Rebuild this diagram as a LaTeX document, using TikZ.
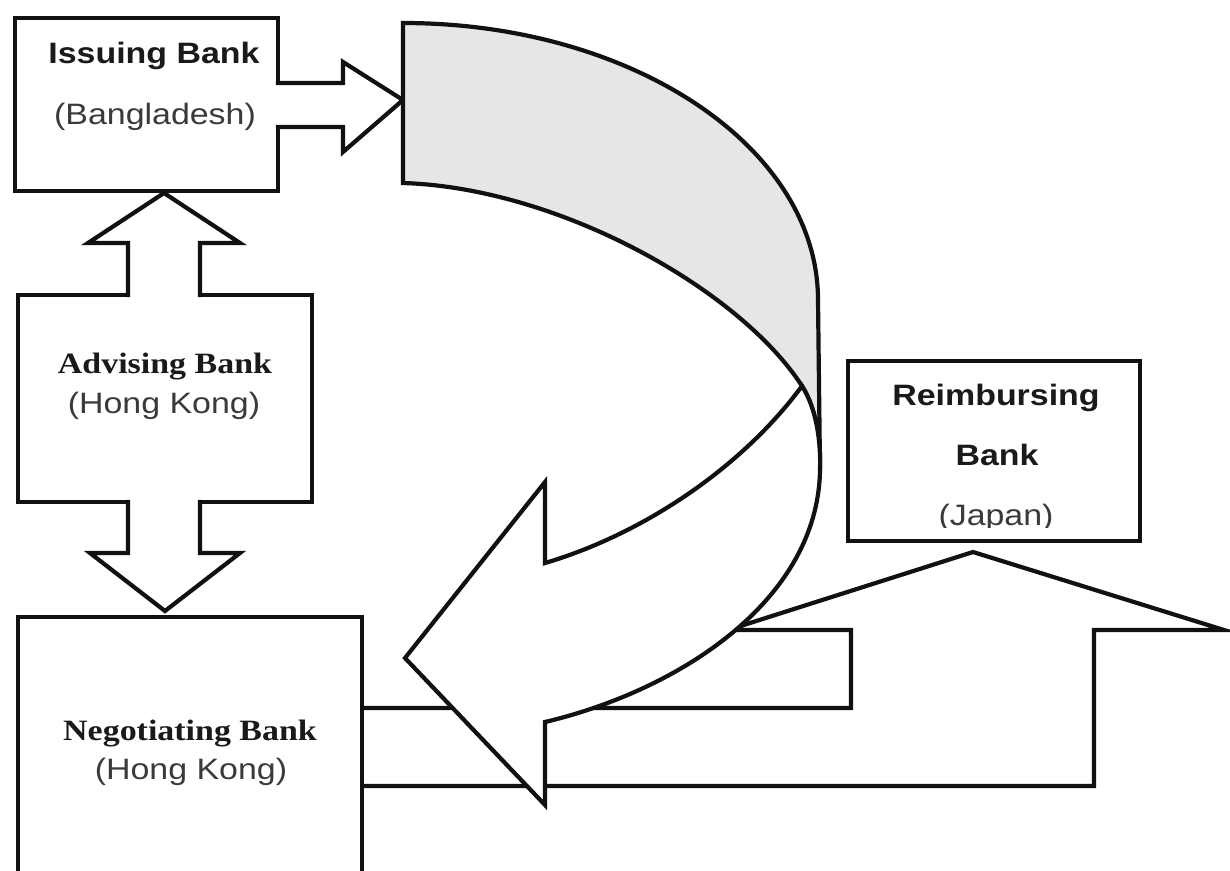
\documentclass[tikz,border=0pt]{standalone}
\usepackage{fontspec}
\usepackage{graphicx}
\setmainfont{Liberation Serif}
\newfontfamily\sansf{Liberation Sans}
\newfontfamily\seriff{Liberation Serif}
\newcommand{\hstr}[1]{\scalebox{1.15}[1]{#1}}
\definecolor{linec}{HTML}{111111}
\definecolor{grayf}{HTML}{E6E6E6}
\definecolor{txtb}{HTML}{1A1A1A}
\definecolor{txtr}{HTML}{3A3A3A}
\begin{document}
\begin{tikzpicture}[x=1pt,y=-1pt,
  outline/.style={draw=linec,line width=4.2pt,line join=miter,miter limit=12},
  box/.style={outline,fill=white,inner sep=0pt,outer sep=0pt},
  blk/.style={outline,fill=white,line cap=rect},
  bsans/.style={font={\sansf\bfseries\fontsize{29.5}{33}\selectfont},text=txtb,anchor=base,inner sep=0pt},
  bserif/.style={font={\seriff\bfseries\fontsize{29.5}{33}\selectfont},text=txtb,anchor=base,inner sep=0pt},
  rsans/.style={font={\sansf\fontsize{29.5}{33}\selectfont},text=txtr,anchor=base,inner sep=0pt}]
\useasboundingbox (0,0) rectangle (1230,870);
\clip (0,0) rectangle (1230,870);

% L-shaped block arrow: Negotiating -> Reimbursing
\draw[blk] (362,708) -- (851,708) -- (851,630) -- (728,630) -- (973,552) -- (1224,630) -- (1094,630) -- (1094,786) -- (362,786);

% boxes
\node[box,minimum width=292,minimum height=180] (reim) at (994,451) {};
\node[box,minimum width=263,minimum height=173] (iss) at (146.5,104.5) {};
\node[box,minimum width=294,minimum height=207] (adv) at (165,398.5) {};
\node[box,minimum width=344,minimum height=283] (neg) at (190,758.5) {};

% Issuing -> curved arrow
\fill[white] (275.5,84.5) rectangle (280.5,125.5);
\draw[blk] (278,83) -- (343,83) -- (343,62) -- (403,100) -- (343,152) -- (343,127) -- (278,127);

% Advising <-> Issuing
\fill[white] (129.5,292.5) rectangle (198.5,297.5);
\draw[blk] (128,295) -- (128,243) -- (88,243) -- (164,193) -- (240,243) -- (200,243) -- (200,295);

% Advising -> Negotiating
\fill[white] (129.5,499.5) rectangle (198.5,504.5);
\draw[blk] (128,502) -- (128,553) -- (90,553) -- (165,611) -- (240,553) -- (200,553) -- (200,502);

% big curved arrow: grey back part
\filldraw[outline,fill=grayf] (403,23) .. controls (632,23) and (818,147) .. (818,300) -- (820,470)
  .. controls (821,440) and (816,408) .. (802,386)
  .. controls (740,290) and (560,188) .. (403,183) -- cycle;
% big curved arrow: white front part with head
\filldraw[outline,fill=white] (802,386) .. controls (740,470) and (640,535) .. (545,563)
  -- (545,482) -- (405,658) -- (545,805) -- (545,722)
  .. controls (680,690) and (818,600) .. (820,470)
  .. controls (821,440) and (816,408) .. (802,386) -- cycle;

% texts
\node[bsans] (issT) at (154,63) {\hstr{Issuing Bank}};
\node[rsans] (issS) at (155,124) {\hstr{(Bangladesh)}};
\node[bserif] (advT) at (165,373) {\hstr{Advising Bank}};
\node[rsans] (advS) at (164,413) {\hstr{(Hong Kong)}};
\node[bserif] (negT) at (190,740) {\hstr{Negotiating Bank}};
\node[rsans] (negS) at (191,779) {\hstr{(Hong Kong)}};
\node[bsans] (reimT) at (996,405) {\hstr{Reimbursing}};
\node[bsans] (reimB) at (997,465) {\hstr{Bank}};
\begin{scope}
\clip (850,490) rectangle (1138,527.5);
\node[rsans] (reimS) at (996,525) {\hstr{(Japan)}};
\end{scope}
\end{tikzpicture}
\end{document}
